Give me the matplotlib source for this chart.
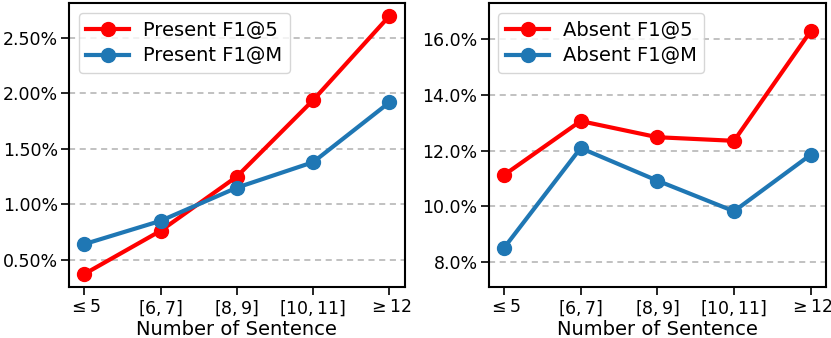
import matplotlib
matplotlib.use("Agg")
import matplotlib.pyplot as plt
from matplotlib.ticker import FuncFormatter

categories = [r"$\leq 5$", r"$[6,7]$", r"$[8,9]$", r"$[10,11]$", r"$\geq 12$"]
present_f1_5 = [0.37, 0.76, 1.25, 1.94, 2.70]
present_f1_m = [0.64, 0.85, 1.15, 1.38, 1.92]
absent_f1_5 = [11.12, 13.06, 12.48, 12.35, 16.29]
absent_f1_m = [8.50, 12.09, 10.92, 9.82, 11.85]

plt.rcParams['font.family'] = ['DejaVu Sans']
plt.rcParams['mathtext.fontset'] = 'dejavusans'
plt.rcParams['font.size'] = 12.5

fig = plt.figure(figsize=(8.31, 3.38), dpi=100)
ax1 = fig.add_axes([0.083, 0.151, 0.404, 0.840])
ax2 = fig.add_axes([0.588, 0.151, 0.406, 0.840])

RED = "#ff0000"
BLUE = "#1f77b4"
x = list(range(len(categories)))

def style(ax, fmt):
    ax.set_xticks(x)
    ax.set_xticklabels(categories)
    ax.yaxis.set_major_formatter(FuncFormatter(lambda v, p: fmt.format(v)))
    ax.grid(axis='y', linestyle=(0, (4, 3)), color='#b0b0b0', linewidth=1.1)
    ax.set_axisbelow(True)
    ax.tick_params(axis='both', labelsize=12.5, length=6, width=1.2, pad=2)
    for s in ax.spines.values():
        s.set_linewidth(1.5)
    ax.set_xlabel("Number of Sentence", fontsize=14, labelpad=2)
    ax.legend(loc='upper left', fontsize=14, framealpha=0.8, edgecolor='#cccccc',
              handlelength=2.2, borderpad=0.4, labelspacing=0.35, handletextpad=0.7,
              borderaxespad=0.5)

kw = dict(marker='o', linewidth=3.0, markersize=10)
ax1.plot(x, present_f1_5, color=RED, label="Present F1@5", **kw)
ax1.plot(x, present_f1_m, color=BLUE, label="Present F1@M", **kw)
ax1.set_yticks([0.5, 1.0, 1.5, 2.0, 2.5])
style(ax1, "{:.2f}%")

ax2.plot(x, absent_f1_5, color=RED, label="Absent F1@5", **kw)
ax2.plot(x, absent_f1_m, color=BLUE, label="Absent F1@M", **kw)
ax2.set_yticks([8, 10, 12, 14, 16])
ax2.set_ylim(7.1, 17.3)
style(ax2, "{:.1f}%")

fig.savefig("out.png", dpi=100)
